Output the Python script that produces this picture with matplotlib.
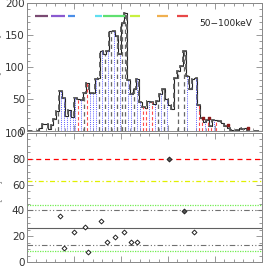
import numpy as np
import matplotlib
matplotlib.use("Agg")
import matplotlib.pyplot as plt

# light curve 50-100 keV, 1/16 s bins starting at t=0
bin_width = 0.0625
counts = [0, 0, 0, 0, 5, 11, 11, 3, 10, 19,
          31, 62, 52, 23, 33, 22, 51, 50, 48, 60,
          75, 59, 59, 81, 83, 125, 120, 125, 156, 156,
          148, 120, 169, 185, 80, 58, 65, 81, 45, 38,
          36, 47, 45, 42, 47, 58, 65, 50, 40, 34,
          83, 94, 102, 125, 86, 66, 81, 83, 40, 20,
          14, 17, 8, 17, 17, 15, 12, 8, 5, 2,
          0, 2, 4, 3, 4, 0, 0, 0, 0, 0]
# pulse marker type per bin: g=gray dashed, b=blue dotted, r=red dashed
marks = list("----------gbbbbbbrbgrbbbgbgbgbgbggbbgbbrrbrbgbgb---g-" + "gb--brrbrrbr" + "-" * 15)

# colour-coded intervals along the top
seg_start = [0.17, 0.51, 0.87, 1.45, 1.62, 2.19, 2.77, 3.19]
seg_end = [0.45, 0.81, 1.02, 1.60, 2.09, 2.40, 3.00, 3.43]
seg_colors = ["#7a4a72", "#8a5ad0", "#4a8ee8", "#60dff0", "#60e070", "#c8f040", "#f0b050", "#e84848"]

# flagged bins (small dark squares)
flag_t = [3.75, 3.87, 4.28, 4.70]
flag_v = [20, 21, 10, 4]

# lower panel: waiting times
pt_t = [0.70, 0.79, 1.00, 1.23, 1.30, 1.57, 1.71, 1.87, 2.07, 2.21, 2.35, 3.02, 3.35, 3.55]
pt_v = [35.7, 11.1, 23.3, 27.4, 7.5, 31.5, 15.3, 19.4, 23.3, 15.3, 15.3, 79.8, 39.5, 23.5]
pt_filled = [0, 0, 0, 0, 0, 0, 0, 0, 0, 0, 0, 1, 1, 0]
mean_level = 26.4
gray_lo, gray_hi = 12.9, 40.0
green_lo, green_hi = 8.8, 44.3
yellow_level = 62.5
red_level = 80.0

counts = np.array(counts)
edges = np.arange(len(counts) + 1) * bin_width
centers = edges[:-1] + bin_width / 2

fig = plt.figure(figsize=(2.66, 2.66), dpi=100)
ax1 = fig.add_axes([0.1015, 0.5075, 0.8835, 0.4812])
ax2 = fig.add_axes([0.1015, 0.015, 0.8835, 0.485])

tick_col = "#333333"
for ax in (ax1, ax2):
    ax.set_xlim(0, 5)
    ax.set_xticks(np.arange(0, 5.01, 1))
    ax.set_xticks(np.arange(0, 5.01, 0.2), minor=True)
    ax.tick_params(which="both", direction="in", top=True, right=True,
                   labelbottom=False, colors="#888888", labelcolor=tick_col,
                   labelsize=7.5, width=0.6, pad=1.5)
    ax.tick_params(which="major", length=4)
    ax.tick_params(which="minor", length=2)
    for s in ax.spines.values():
        s.set_color("#888888")
        s.set_linewidth(0.7)

# top panel
ax1.set_ylim(0, 200)
ax1.set_yticks(np.arange(0, 201, 50))
ax1.set_yticks(np.arange(0, 201, 10), minor=True)

m = np.array(marks)
sel = m == "b"
ax1.vlines(centers[sel], 0, counts[sel], colors="#5a5aff", linestyles=(0, (1, 1.2)), lw=0.7)
sel = m == "r"
ax1.vlines(centers[sel], 0, counts[sel], colors="#ff4a4a", linestyles=(0, (3, 2)), lw=0.8)
sel = m == "g"
ax1.vlines(centers[sel], 0, counts[sel], colors="#666666", linestyles=(0, (3.5, 2.5)), lw=0.9)

ax1.stairs(counts, edges, color="#222222", lw=0.8)
ax1.stairs(counts, edges, color="#555555", lw=1.3, ls=(0, (3, 2)))
ax1.scatter(flag_t, flag_v, marker="s", s=4, color="#8b1a1a", zorder=5)

ax1.hlines([180] * len(seg_start), seg_start, seg_end, colors=seg_colors, lw=1.6)
ax1.text(0.735, 0.84, "50\u2212100keV", transform=ax1.transAxes, fontsize=6.5,
         color="#222222", va="center")
ax1.set_ylabel("Rate [cts s$^{-1}$]", fontsize=7, color="#999999")
ax1.yaxis.set_label_coords(-0.094, 0.5)

# bottom panel
ax2.set_ylim(0, 100)
ax2.set_yticks(np.arange(0, 101, 20))
ax2.set_yticks(np.arange(0, 101, 5), minor=True)
ax2.plot([0, 5], [red_level] * 2, color="red", ls=(0, (4, 3)), lw=0.9)
ax2.plot([0, 5], [yellow_level] * 2, color="#e0f000", ls=(0, (4, 2, 1, 2)), lw=0.9)
ax2.plot([0, 5], [green_hi] * 2, color="#70ee50", ls=(0, (1, 1)), lw=0.9)
ax2.plot([0, 5], [green_lo] * 2, color="#70ee50", ls=(0, (1, 1)), lw=0.9)
ax2.plot([0, 5], [gray_hi] * 2, color="#707070", ls=(0, (5, 2, 1, 2, 1, 2)), lw=0.8)
ax2.plot([0, 5], [gray_lo] * 2, color="#707070", ls=(0, (5, 2, 1, 2, 1, 2)), lw=0.8)
ax2.plot([0, 5], [mean_level] * 2, color="#606060", lw=0.8)

pt_t = np.array(pt_t)
pt_v = np.array(pt_v)
filled = np.array(pt_filled) == 1
ax2.scatter(pt_t[~filled], pt_v[~filled], marker="D", s=6, facecolors="white",
            edgecolors="#222222", linewidths=0.7, zorder=5)
ax2.scatter(pt_t[filled], pt_v[filled], marker="D", s=6, facecolors="#555555",
            edgecolors="#222222", linewidths=0.7, zorder=5)
ax2.set_ylabel("$\\Delta t$ [ms]", fontsize=7, color="#999999")
ax2.yaxis.set_label_coords(-0.094, 0.5)

fig.savefig("out.png", dpi=100)
